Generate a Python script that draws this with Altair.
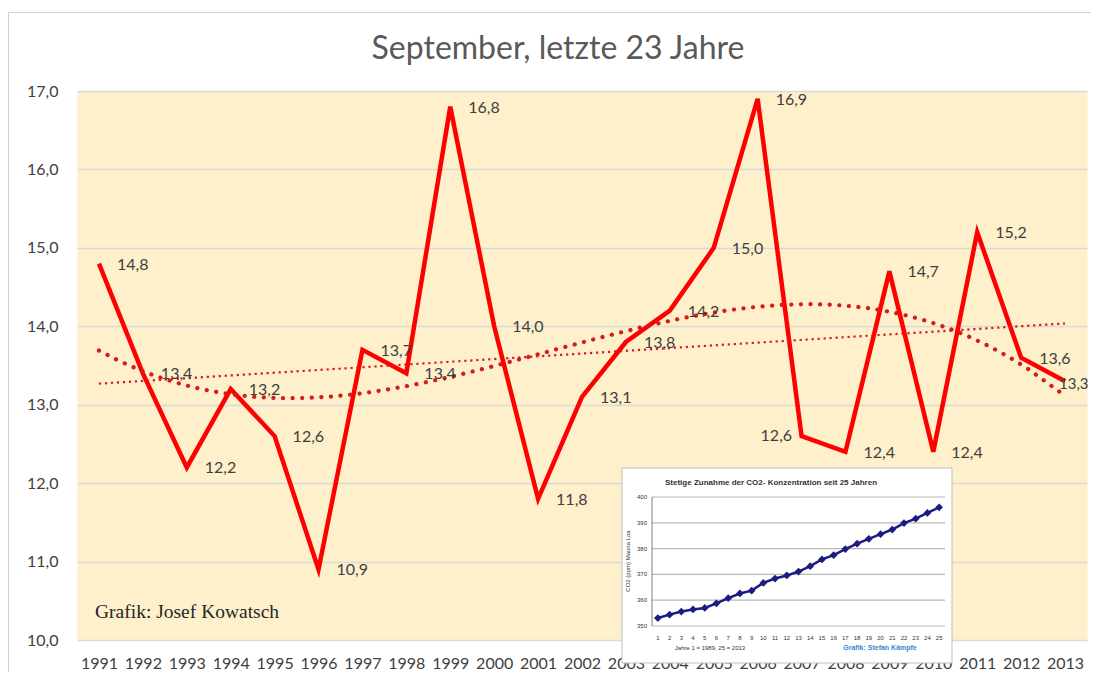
import altair as alt
import pandas as pd

# ---------------- data ----------------
years = list(range(1991, 2014))
temps = [14.8, 13.4, 12.2, 13.2, 12.6, 10.9, 13.7, 13.4, 16.8, 14.0, 11.8, 13.1,
         13.8, 14.2, 15.0, 16.9, 12.6, 12.4, 14.7, 12.4, 15.2, 13.6, 13.3]
y_ticks = [10, 11, 12, 13, 14, 15, 16, 17]

co2_years = list(range(1, 26))
co2_ppm = [353.1, 354.4, 355.6, 356.4, 357.0, 358.8, 360.8, 362.6, 363.7, 366.7,
           368.4, 369.6, 371.1, 373.2, 375.8, 377.5, 379.8, 381.9, 383.8, 385.6,
           387.4, 389.9, 391.6, 393.8, 396.0]
co2_ticks = [350, 360, 370, 380, 390, 400]

title_text = "September, letzte 23 Jahre"
credit_text = "Grafik: Josef Kowatsch"
inset_title = "Stetige Zunahme der CO2- Konzentration seit 25 Jahren"
inset_ytitle = "CO2 (ppm) Mauna Loa"
inset_note = "Jahre 1 = 1989, 25 = 2013"
inset_credit = "Grafik: Stefan Kämpfe"

df = pd.DataFrame({"year": years, "temp": temps})
df_co2 = pd.DataFrame({"n": co2_years, "ppm": co2_ppm})
df_co2_ticks = pd.DataFrame({"ppm": co2_ticks})
one = pd.DataFrame({"a": [0]})

W, H = 1010, 549
RED = "#FF0000"
TREND = "#D91A1A"
FONT = "Lato"

# ---------------- main chart ----------------
xs = alt.X("year:Q",
           scale=alt.Scale(domain=[1990.5, 2013.5], nice=False, zero=False),
           axis=alt.Axis(values=years, format="d", grid=False, ticks=False, domain=False,
                         labelFont=FONT, labelFontSize=16, labelColor="#404040",
                         labelPadding=15, labelOverlap=False, labelFlush=False,
                         labelBound=False, title=None))
ys = alt.Y("temp:Q",
           scale=alt.Scale(domain=[10, 17], nice=False, zero=False),
           axis=alt.Axis(values=y_ticks,
                         labelExpr="replace(format(datum.value, '.1f'), '.', ',')",
                         grid=True, gridColor="#D9D9D9", gridWidth=1.3,
                         ticks=False, domain=False,
                         labelFont=FONT, labelFontSize=16, labelColor="#404040",
                         labelPadding=19, title=None))

base = alt.Chart(df)

frame = alt.Chart(one).mark_rect(fillOpacity=0, stroke="#D0D0D0", strokeWidth=1).encode(
    x=alt.value(-68.5), x2=alt.value(1060), y=alt.value(-78.5), y2=alt.value(700))

title = alt.Chart(one).mark_text(font=FONT, fontSize=32, color="#595959",
                                 align="center", baseline="middle").encode(
    x=alt.value(481), y=alt.value(-42), text=alt.value(title_text))

line = base.mark_line(color=RED, strokeWidth=4.5, strokeJoin="miter").encode(x=xs, y=ys)

lin_trend = base.transform_regression("year", "temp", method="linear",
                                      extent=[1991, 2013]).mark_line(
    color=TREND, strokeWidth=2.2, strokeDash=[2.2, 3.8]).encode(x=xs, y=ys)

poly_trend = base.transform_regression("year", "temp", method="poly", order=3,
                                       extent=[1991, 2013]).mark_line(
    color=TREND, strokeWidth=4.2, strokeDash=[0.1, 9.5], strokeCap="round").encode(x=xs, y=ys)

label_expr = "replace(format(datum.temp, '.1f'), '.', ',')"
text_style = dict(font=FONT, color="#404040", baseline="middle")
labels_right = base.transform_filter("datum.year != 2007 && datum.year != 2013").transform_calculate(
    lbl=label_expr).mark_text(align="left", dx=18, dy=1, fontSize=16, **text_style).encode(
    x=xs, y=ys, text="lbl:N")
labels_left = base.transform_filter("datum.year == 2007").transform_calculate(
    lbl=label_expr).mark_text(align="left", dx=-41, dy=0, fontSize=16, **text_style).encode(
    x=xs, y=ys, text="lbl:N")
labels_edge = base.transform_filter("datum.year == 2013").transform_calculate(
    lbl=label_expr).mark_text(align="left", dx=-6, dy=3, fontSize=15, **text_style).encode(
    x=xs, y=ys, text="lbl:N")

credit = alt.Chart(one).mark_text(font="Liberation Serif", fontSize=19.5, color="#262626",
                                  align="left", baseline="middle").encode(
    x=alt.value(18), y=alt.value(521), text=alt.value(credit_text))

main = alt.layer(frame, title, line, lin_trend, poly_trend,
                 labels_right, labels_left, labels_edge, credit)

# ---------------- inset chart ----------------
ix = alt.X("n:Q", scale=alt.Scale(domain=[0.5, 25.5], range=[575, 868], nice=False, zero=False),
           axis=None)
iy = alt.Y("ppm:Q", scale=alt.Scale(domain=[350, 400], range=[535, 406], nice=False, zero=False),
           axis=None)

inset_box = alt.Chart(one).mark_rect(fill="white", stroke="#BFBFBF", strokeWidth=1).encode(
    x=alt.value(545), x2=alt.value(875), y=alt.value(377), y2=alt.value(572))

inset_grid = alt.Chart(df_co2_ticks).mark_rule(color="#B8B8B8", strokeWidth=1.2).encode(
    y=iy, x=alt.value(575), x2=alt.value(868))

inset_axis = alt.Chart(one).mark_rule(color="#808080", strokeWidth=1).encode(
    x=alt.value(575), y=alt.value(406), y2=alt.value(535))

inset_ylabels = alt.Chart(df_co2_ticks).mark_text(font="Liberation Sans", fontSize=6,
                                                  color="#333333", align="right",
                                                  baseline="middle").encode(
    y=iy, x=alt.value(570), text="ppm:N")

inset_xlabels = alt.Chart(df_co2).mark_text(font="Liberation Sans", fontSize=6,
                                            color="#333333", align="center",
                                            baseline="middle").encode(
    x=ix, y=alt.value(547), text="n:N")

inset_line = alt.Chart(df_co2).mark_line(
    color="#1C1C80", strokeWidth=2.5,
    point=alt.OverlayMarkDef(shape="diamond", size=60, filled=True, color="#1C1C80")).encode(
    x=ix, y=iy)

inset_title_t = alt.Chart(one).mark_text(font="Liberation Sans", fontSize=8, fontWeight="bold",
                                         color="#333333", align="center",
                                         baseline="middle").encode(
    x=alt.value(694), y=alt.value(392), text=alt.value(inset_title))

inset_ytitle_t = alt.Chart(one).mark_text(font="Liberation Sans", fontSize=6, color="#333333",
                                          align="center", baseline="middle",
                                          angle=270).encode(
    x=alt.value(551), y=alt.value(470), text=alt.value(inset_ytitle))

inset_note_t = alt.Chart(one).mark_text(font="Liberation Sans", fontSize=6, color="#333333",
                                        align="center", baseline="middle").encode(
    x=alt.value(633), y=alt.value(557), text=alt.value(inset_note))

inset_credit_t = alt.Chart(one).mark_text(font="Liberation Sans", fontSize=7, fontWeight="bold",
                                          color="#3A86D0", align="center",
                                          baseline="middle").encode(
    x=alt.value(803), y=alt.value(557), text=alt.value(inset_credit))

inset = alt.layer(inset_box, inset_grid, inset_axis, inset_ylabels, inset_xlabels,
                  inset_line, inset_title_t, inset_ytitle_t, inset_note_t, inset_credit_t)

chart = alt.layer(main, inset).resolve_scale(x="independent", y="independent").properties(
    width=W, height=H,
    autosize=alt.AutoSizeParams(type="none"),
    padding={"left": 69, "top": 83, "right": 4, "bottom": 32},
    background="white",
).configure_view(fill="#FDF0CB", stroke="transparent")

chart.save("out.html", embed_options={"renderer": "svg", "actions": False})
